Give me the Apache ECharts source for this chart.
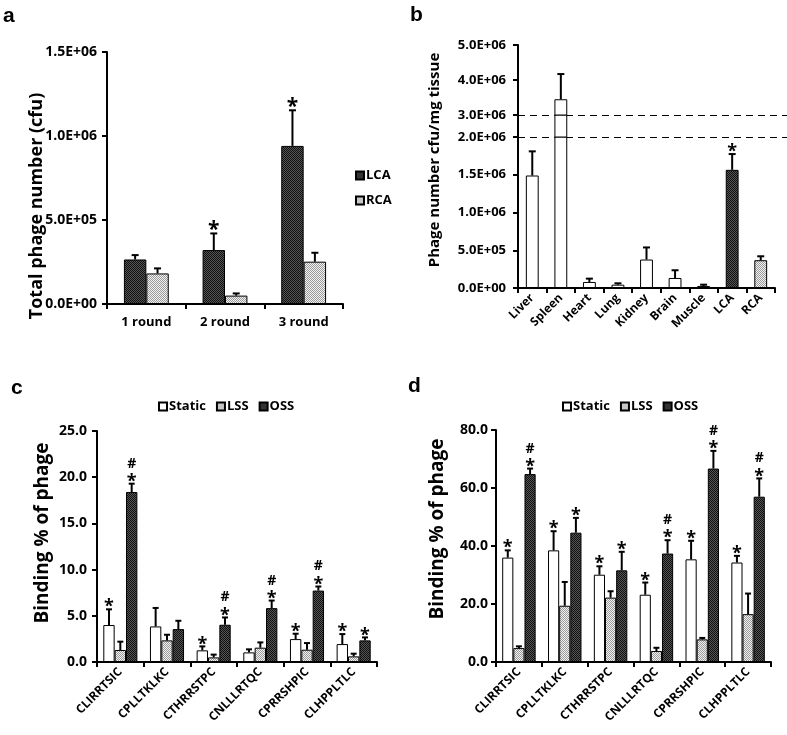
<!DOCTYPE html>
<html><head><meta charset="utf-8">
<script src="https://cdn.jsdelivr.net/npm/echarts@6/dist/echarts.min.js"></script>
<style>html,body{margin:0;padding:0;background:#fff}#c{width:787px;height:735px}</style>
</head><body><div id="c"></div><script>
// ---------- data ----------
const aRounds = ['1 round', '2 round', '3 round'];
const aLCA = [265000, 321000, 941000];
const aLCAErr = [26000, 99000, 212000];
const aRCA = [182000, 50000, 252000];
const aRCAErr = [30000, 13000, 53000];
const aLCASig = ['', '*', '*'];
const aTicks = [0, 500000, 1000000, 1500000];

const bOrgans = ['Liver', 'Spleen', 'Heart', 'Lung', 'Kidney', 'Brain', 'Muscle', 'LCA', 'RCA'];
const bMean = [1490000, 3450000, 80000, 44000, 377000, 133000, 27000, 1565000, 368000];
const bErr = [320000, 720000, 44000, 18000, 160000, 102000, 17000, 209000, 52000];
const bSig = ['', '', '', '', '', '', '', '*', ''];
const bLowerTicks = [0, 500000, 1000000, 1500000, 2000000];
const bUpperTicks = [3000000, 4000000, 5000000];

const peptides = ['CLIRRTSIC', 'CPLLTKLKC', 'CTHRRSTPC', 'CNLLLRTQC', 'CPRRSHPIC', 'CLHPPLTLC'];
const groups = ['Static', 'LSS', 'OSS'];
const cStatic = [4.0, 3.85, 1.26, 1.04, 2.48, 1.94];
const cStaticErr = [1.7, 2.0, 0.43, 0.33, 0.58, 1.08];
const cLSS = [1.3, 2.34, 0.5, 1.55, 1.33, 0.61];
const cLSSErr = [0.9, 0.61, 0.3, 0.57, 0.72, 0.29];
const cOSS = [18.4, 3.56, 4.03, 5.83, 7.73, 2.34];
const cOSSErr = [0.9, 0.9, 0.79, 0.82, 0.44, 0.32];
const cStaticSig = ['*', '', '*', '', '*', '*'];
const cOSSSig = ['#*', '', '#*', '#*', '#*', '*'];
const cTicks = [0, 5, 10, 15, 20, 25];

const dStatic = [36.0, 38.5, 30.1, 23.2, 35.4, 34.3];
const dStaticErr = [2.5, 6.6, 2.9, 4.2, 6.4, 2.3];
const dLSS = [4.8, 19.4, 22.2, 3.8, 7.8, 16.5];
const dLSSErr = [0.6, 8.2, 2.2, 1.1, 0.5, 7.1];
const dOSS = [64.8, 44.6, 31.6, 37.4, 66.7, 57.0];
const dOSSErr = [1.9, 5.1, 6.4, 4.6, 6.1, 6.3];
const dStaticSig = ['*', '*', '*', '*', '*', '*'];
const dOSSSig = ['#*', '*', '*', '#*', '#*', '#*'];
const dTicks = [0, 20, 40, 60, 80];

// ---------- styles ----------
const FONT = '"Open Sans", "Noto Sans", sans-serif';
function makePattern(bg, fg) {
  const cv = document.createElement('canvas');
  cv.width = 2; cv.height = 2;
  const g = cv.getContext('2d');
  g.fillStyle = bg; g.fillRect(0, 0, 2, 2);
  g.fillStyle = fg; g.fillRect(0, 0, 1, 1); g.fillRect(1, 1, 1, 1);
  return { image: cv, repeat: 'repeat' };
}
const DARK = makePattern('#555555', '#111111');
const LIGHT = makePattern('#f2f2f2', '#9a9a9a');
const WHITE = '#ffffff';
const sciFmt = v => { const s = v.toExponential(1).split('e+'); return s[0] + 'E+' + (s[1].length < 2 ? '0' + s[1] : s[1]); };

const axisLine = { show: true, lineStyle: { color: '#000', width: 2 } };
const axisTick = { show: true, length: 5, lineStyle: { color: '#000', width: 2 } };
const lab = (size, extra) => Object.assign({ color: '#000', fontFamily: FONT, fontWeight: 'bold', fontSize: size }, extra || {});

function catAxis(gi, data, extra) {
  return Object.assign({
    type: 'category', gridIndex: gi, data, axisLine, axisTick,
    axisLabel: lab(12),
    splitLine: { show: false }
  }, extra || {});
}
function valAxis(gi, ticks, fmt, margin, size) {
  return {
    type: 'value', gridIndex: gi, min: ticks[0], max: ticks[ticks.length - 1],
    interval: ticks[1] - ticks[0], axisLine, axisTick,
    axisLabel: lab(size || 13, { formatter: fmt, margin }),
    splitLine: { show: false }
  };
}

function barSeries(name, gi, data, color, gap) {
  return {
    type: 'bar', name, xAxisIndex: gi, yAxisIndex: gi, data,
    barGap: '0%', barCategoryGap: gap,
    itemStyle: { color, borderColor: '#000', borderWidth: 1 },
    emphasis: { disabled: true }, clip: true
  };
}

function errSeries(o) {
  const data = [];
  o.means.forEach((m, i) => { if (!o.filter || o.filter(m)) data.push([i, m, o.errs[i]]); });
  return {
    type: 'custom', xAxisIndex: o.gi, yAxisIndex: o.gi, z: 5, silent: true, clip: false,
    data, encode: { x: 0, y: 1 },
    renderItem(params, api) {
      const i = api.value(0), m = api.value(1), e = api.value(2);
      const band = api.size([1, 0])[0];
      const total = band * (1 - o.gap);
      const bw = total / o.n;
      const c = api.coord([i, m]);
      const x = c[0] - total / 2 + bw * (o.k + 0.5);
      const yTop = api.coord([i, m + e])[1];
      const st = { stroke: '#000', lineWidth: 2 };
      const ch = [
        { type: 'line', shape: { x1: x, y1: c[1], x2: x, y2: yTop }, style: st },
        { type: 'line', shape: { x1: x - o.cap / 2, y1: yTop, x2: x + o.cap / 2, y2: yTop }, style: st }
      ];
      const s = o.sigs ? o.sigs[i] : '';
      if (s.indexOf('*') >= 0) ch.push({ type: 'text', style: { text: '*', x, y: yTop - (o.starOff || 2), align: 'center', verticalAlign: 'middle', font: 'bold ' + (o.starSize || 18) + 'px ' + FONT, fill: '#000' } });
      if (s.indexOf('#') >= 0) ch.push({ type: 'text', style: { text: '#', x, y: yTop - (o.hashOff || 20), align: 'center', verticalAlign: 'middle', font: 'bold 14px ' + FONT, fill: '#000' } });
      return { type: 'group', children: ch };
    }
  };
}

const bItems = (vals) => vals.map((v, i) => ({
  value: v,
  itemStyle: { color: bOrgans[i] === 'LCA' ? DARK : (bOrgans[i] === 'RCA' ? LIGHT : WHITE), borderColor: '#000', borderWidth: 1 }
}));

const hidden = { show: false };
const title = (text, x, y, size) => ({ type: 'text', x, y, rotation: Math.PI / 2, style: { text, align: 'center', verticalAlign: 'middle', font: 'bold ' + size + 'px ' + FONT, fill: '#000' } });
const letter = (text, x, y) => ({ type: 'text', x, y, style: { text, align: 'left', verticalAlign: 'middle', font: 'bold 21px "Liberation Sans", Arial, sans-serif', fill: '#000' } });
const legendStyle = { itemWidth: 8, itemHeight: 8, selectedMode: false, icon: 'rect',
  textStyle: { fontFamily: FONT, fontWeight: 'bold', fontSize: 13, color: '#000', padding: [0, 0, 0, -3] } };

const option = {
  animation: false,
  backgroundColor: '#fff',
  textStyle: { fontFamily: FONT },
  grid: [
    { left: 107, top: 52, width: 236, height: 252, outerBoundsMode: 'none' },   // a
    { left: 518, top: 137, width: 257, height: 151, outerBoundsMode: 'none' },  // b lower
    { left: 518, top: 115, width: 257, height: 22, outerBoundsMode: 'none' },   // b gap
    { left: 518, top: 45, width: 257, height: 70, outerBoundsMode: 'none' },    // b upper
    { left: 518, top: 115, width: 269, height: 22, outerBoundsMode: 'none' },   // b dashed guides
    { left: 97, top: 431, width: 280, height: 231, outerBoundsMode: 'none' },   // c
    { left: 496, top: 430, width: 275, height: 232, outerBoundsMode: 'none' }   // d
  ],
  xAxis: [
    catAxis(0, aRounds, { axisLabel: lab(13, { margin: 12 }) }),
    catAxis(1, bOrgans, { axisLabel: lab(12, { rotate: 45, margin: 8 }) }),
    catAxis(2, bOrgans, { show: false }),
    catAxis(3, bOrgans, { show: false }),
    { type: 'value', gridIndex: 4, min: 0, max: 1, show: false },
    catAxis(5, peptides, { axisLabel: lab(12, { rotate: 45, margin: 8 }) }),
    catAxis(6, peptides, { axisLabel: lab(12, { rotate: 45, margin: 8 }) })
  ],
  yAxis: [
    valAxis(0, aTicks, sciFmt, 10, 14),
    valAxis(1, bLowerTicks, sciFmt, 12),
    { type: 'value', gridIndex: 2, min: bLowerTicks[bLowerTicks.length - 1], max: bUpperTicks[0], axisLine, axisTick: hidden, axisLabel: hidden, splitLine: hidden },
    valAxis(3, bUpperTicks, sciFmt, 12),
    { type: 'value', gridIndex: 4, min: bLowerTicks[bLowerTicks.length - 1], max: bUpperTicks[0], interval: bUpperTicks[0] - bLowerTicks[bLowerTicks.length - 1],
      axisLine: hidden, axisTick: hidden, axisLabel: hidden,
      splitLine: { show: true, lineStyle: { color: '#000', width: 1, type: [7, 5] } } },
    valAxis(5, cTicks, v => v.toFixed(1), 10, 14),
    valAxis(6, dTicks, v => v.toFixed(1), 8, 14)
  ],
  legend: [
    Object.assign({ data: ['LCA', 'RCA'], orient: 'vertical', left: 350, top: 164, itemGap: 12 }, legendStyle),
    Object.assign({ data: groups, left: 153, top: 395, itemGap: 10 }, legendStyle),
    Object.assign({ data: groups, left: 557, top: 395, itemGap: 10 }, legendStyle)
  ],
  series: [
    // a
    barSeries('LCA', 0, aLCA, DARK, '43%'),
    barSeries('RCA', 0, aRCA, LIGHT, '43%'),
    errSeries({ gi: 0, means: aLCA, errs: aLCAErr, sigs: aLCASig, k: 0, n: 2, gap: 0.43, cap: 7, starSize: 21, starOff: 3 }),
    errSeries({ gi: 0, means: aRCA, errs: aRCAErr, k: 1, n: 2, gap: 0.43, cap: 7 }),
    // b
    barSeries('organs', 1, bItems(bMean), WHITE, '55%'),
    barSeries('organsGap', 2, bItems(bMean), WHITE, '55%'),
    barSeries('organsUpper', 3, bItems(bMean), WHITE, '55%'),
    errSeries({ gi: 1, means: bMean, errs: bErr, sigs: bSig, k: 0, n: 1, gap: 0.55, cap: 7, filter: m => m <= bLowerTicks[bLowerTicks.length - 1] }),
    errSeries({ gi: 3, means: bMean, errs: bErr, sigs: bSig, k: 0, n: 1, gap: 0.55, cap: 7, filter: m => m >= bUpperTicks[0] }),
    // c
    barSeries('Static', 5, cStatic, WHITE, '27%'),
    barSeries('LSS', 5, cLSS, LIGHT, '27%'),
    barSeries('OSS', 5, cOSS, DARK, '27%'),
    errSeries({ gi: 5, means: cStatic, errs: cStaticErr, sigs: cStaticSig, k: 0, n: 3, gap: 0.27, cap: 6 }),
    errSeries({ gi: 5, means: cLSS, errs: cLSSErr, k: 1, n: 3, gap: 0.27, cap: 6 }),
    errSeries({ gi: 5, means: cOSS, errs: cOSSErr, sigs: cOSSSig, k: 2, n: 3, gap: 0.27, cap: 6 }),
    // d
    barSeries('Static', 6, dStatic, WHITE, '27%'),
    barSeries('LSS', 6, dLSS, LIGHT, '27%'),
    barSeries('OSS', 6, dOSS, DARK, '27%'),
    errSeries({ gi: 6, means: dStatic, errs: dStaticErr, sigs: dStaticSig, k: 0, n: 3, gap: 0.27, cap: 6 }),
    errSeries({ gi: 6, means: dLSS, errs: dLSSErr, k: 1, n: 3, gap: 0.27, cap: 6 }),
    errSeries({ gi: 6, means: dOSS, errs: dOSSErr, sigs: dOSSSig, k: 2, n: 3, gap: 0.27, cap: 6 })
  ],
  graphic: [
    letter('a', 3, 16), letter('b', 410, 15), letter('c', 11, 388), letter('d', 408, 386),
    title('Total phage number (cfu)', 37, 206, 18),
    title('Phage number cfu/mg tissue', 435, 160, 15),
    title('Binding % of phage', 43, 533, 19),
    title('Binding % of phage', 438, 529, 19)
  ]
};

const chart = echarts.init(document.getElementById('c'), null, { renderer: 'canvas' });
chart.setOption(option);
</script></body></html>
